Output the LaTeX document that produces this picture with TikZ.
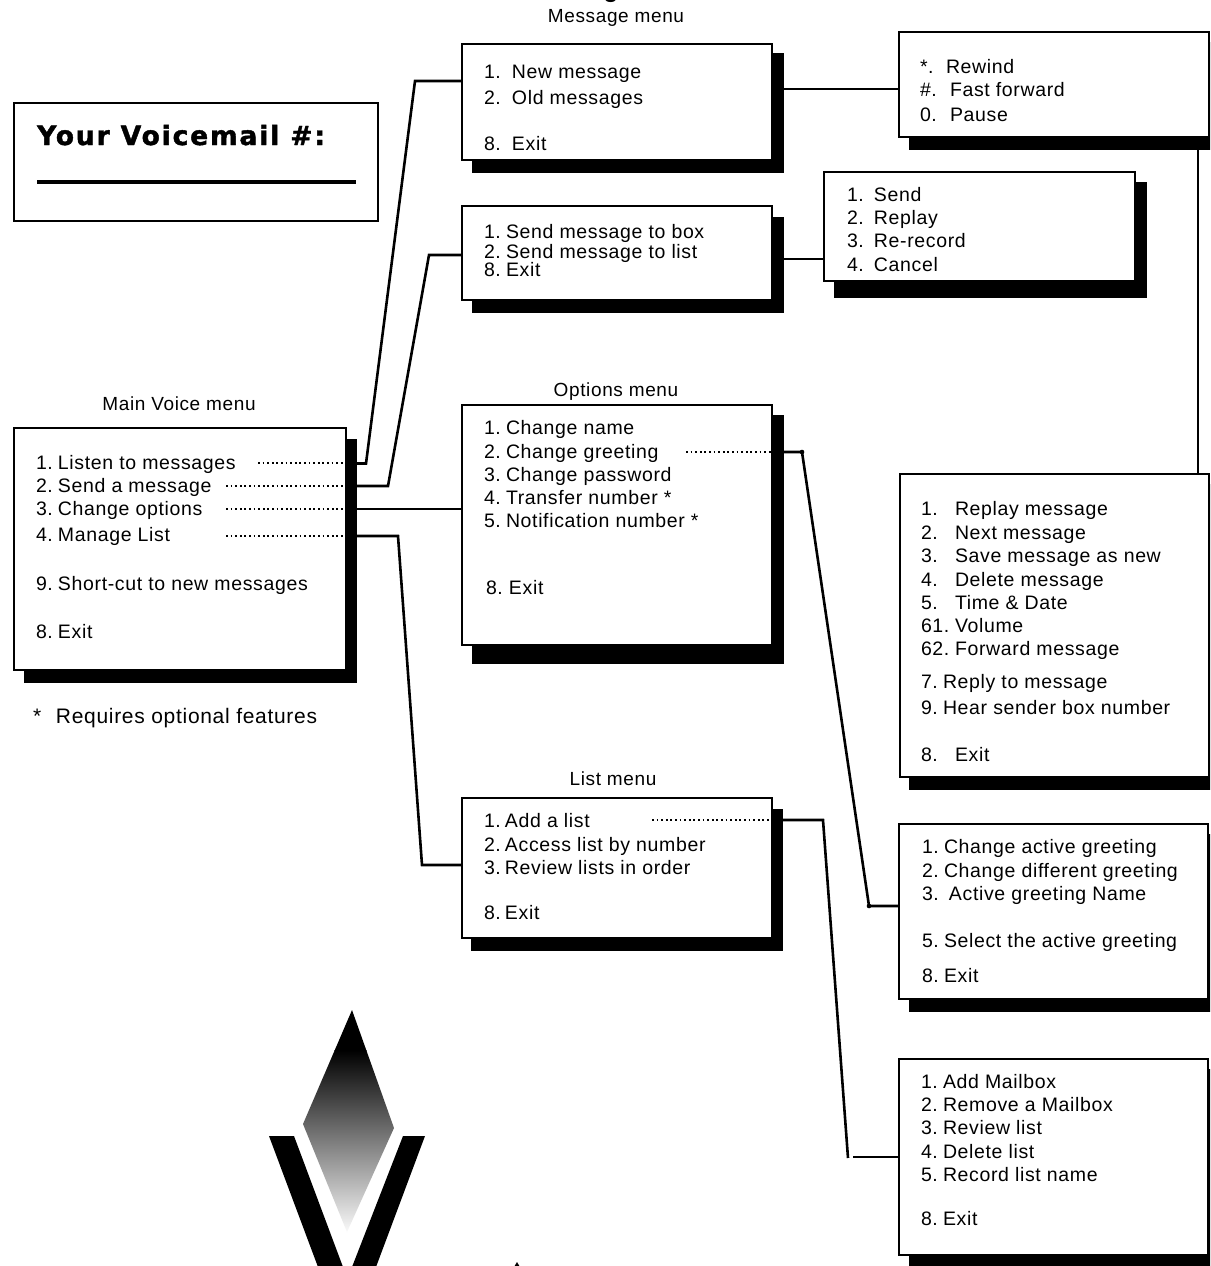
\documentclass[tikz,border=0pt]{standalone}
\usepackage{fontspec}
\setmainfont[LetterSpace=3.3]{Liberation Sans}
\newfontfamily\headfont[FakeBold=1.6,LetterSpace=7]{DejaVu Sans Bold}
\usetikzlibrary{calc}
\newcounter{tn}
\tikzset{
  frame/.style={draw=black,fill=white,line width=2.9pt,inner sep=0pt,outer sep=0pt},
  shadowbox/.style={fill=black,inner sep=0pt,outer sep=0pt},
  conn/.style={draw=black,line width=2.6pt,line join=miter},
  dots/.style={draw=black,line width=1.8pt,dash pattern=on 1.8pt off 2.8pt},
  txt/.style={anchor=base west,inner sep=0pt,outer sep=0pt,font=\fontsize{19.5}{23}\selectfont},
  ttl/.style={anchor=base,inner sep=0pt,outer sep=0pt,font=\fontsize{19}{23}\selectfont},
}
% name, x1,y1,x2,y2
\newcommand{\framedbox}[5]{\node[frame,minimum width={(#4-#2)*1pt},minimum height={(#5-#3)*1pt}] (#1) at ({(#2+#4)/2},{(#3+#5)/2}) {};}
\newcommand{\shadowat}[5]{\node[shadowbox,minimum width={(#4-#2)*1pt},minimum height={(#5-#3)*1pt}] (#1) at ({(#2+#4)/2},{(#3+#5)/2}) {};}
% x, y, number, x2, text
\newcommand{\itm}[5]{\stepcounter{tn}\node[txt] (t\arabic{tn}) at (#1,#2) {\makebox[\dimexpr#4pt-#1pt\relax][l]{#3}#5};}
\begin{document}
\begin{tikzpicture}[x=1pt,y=-1pt]
\path[use as bounding box,clip] (0,0) rectangle (1210,1266);
\fill[white] (0,0) rectangle (1210,1266);

% shadows
\shadowat{mainS}{24}{439}{357}{683}
\shadowat{msgS}{472}{53}{784}{173}
\shadowat{sendS}{472}{217}{784}{313}
\shadowat{optS}{472}{415}{784}{664}
\shadowat{listS}{471}{809}{783}{951}
\shadowat{ctlS}{909}{42}{1212}{150}
\shadowat{sendrS}{834}{182}{1147}{298}
\shadowat{playS}{909}{484}{1212}{790}
\shadowat{greetS}{909}{834}{1212}{1012}
\shadowat{mboxS}{909}{1069}{1212}{1270}

% boxes
\framedbox{vm}{14}{103}{378}{221}
\framedbox{main}{14}{428}{346}{670}
\framedbox{msg}{462}{44}{772}{160}
\framedbox{send}{462}{206}{772}{300}
\framedbox{opt}{462}{405}{772}{645}
\framedbox{list}{462}{798}{772}{938}
\framedbox{ctl}{899}{32}{1209}{137}
\framedbox{sendr}{824}{172}{1135}{281}
\framedbox{play}{900}{474}{1209}{777}
\framedbox{greet}{899}{824}{1208}{999}
\framedbox{mbox}{899}{1059}{1208}{1255}

% voicemail box
\node[anchor=base west,inner sep=0pt,font=\headfont\fontsize{26.5}{30}\selectfont] (vmtxt) at (37,145) {Your Voicemail \#:};
\coordinate (vmA) at (37,182);
\coordinate (vmB) at (356,182);
\draw[line width=4pt] (vmA) -- (vmB);

% clipped heading and tip
\node[anchor=base,inner sep=0pt,font=\bfseries\fontsize{24}{28}\selectfont] (hg) at (611,-2) {g};
\coordinate (tipA) at (517,1262);
\coordinate (tipB) at (514,1267);
\coordinate (tipC) at (520,1267);
\fill (tipA) -- (tipB) -- (tipC) -- cycle;

% titles
\node[ttl] (ttlmsg) at (616,22) {Message menu};
\node[ttl] (ttlmain) at (179,410) {Main Voice menu};
\node[ttl] (ttlopt) at (616,396) {Options menu};
\node[ttl] (ttllist) at (613,785) {List menu};

% main
\itm{36}{469}{1.}{58}{Listen to messages}
\itm{36}{492}{2.}{58}{Send a message}
\itm{36}{515}{3.}{58}{Change options}
\itm{36}{541}{4.}{58}{Manage List}
\itm{36}{590}{9.}{58}{Short-cut to new messages}
\itm{36}{638}{8.}{58}{Exit}
\node[txt,font=\fontsize{21}{25}\selectfont] (tnote) at (33,723) {\makebox[23pt][l]{*}Requires optional features};

% message
\itm{484}{78}{1.}{512}{New message}
\itm{484}{104}{2.}{512}{Old messages}
\itm{484}{150}{8.}{512}{Exit}
% controls
\itm{920}{73}{*.}{946}{Rewind}
\itm{920}{96}{\#.}{950}{Fast forward}
\itm{920}{121}{0.}{950}{Pause}
% send
\itm{484}{238}{1.}{506}{Send message to box}
\itm{484}{258}{2.}{506}{Send message to list}
\itm{484}{276}{8.}{506}{Exit}
% send right
\itm{847}{201}{1.}{874}{Send}
\itm{847}{224}{2.}{874}{Replay}
\itm{847}{247}{3.}{874}{Re-record}
\itm{847}{271}{4.}{874}{Cancel}
% options
\itm{484}{434}{1.}{506}{Change name}
\itm{484}{458}{2.}{506}{Change greeting}
\itm{484}{481}{3.}{506}{Change password}
\itm{484}{504}{4.}{506}{Transfer number *}
\itm{484}{527}{5.}{506}{Notification number *}
\itm{486}{594}{8.}{509}{Exit}
% list
\itm{484}{827}{1.}{505}{Add a list}
\itm{484}{851}{2.}{505}{Access list by number}
\itm{484}{874}{3.}{505}{Review lists in order}
\itm{484}{919}{8.}{505}{Exit}
% play
\itm{921}{515}{1.}{955}{Replay message}
\itm{921}{539}{2.}{955}{Next message}
\itm{921}{562}{3.}{955}{Save message as new}
\itm{921}{586}{4.}{955}{Delete message}
\itm{921}{609}{5.}{955}{Time \& Date}
\itm{921}{632}{61.}{955}{Volume}
\itm{921}{655}{62.}{955}{Forward message}
\itm{921}{688}{7.}{943}{Reply to message}
\itm{921}{714}{9.}{943}{Hear sender box number}
\itm{921}{761}{8.}{955}{Exit}
% greet
\itm{922}{853}{1.}{944}{Change active greeting}
\itm{922}{877}{2.}{944}{Change different greeting}
\itm{922}{900}{3.}{949}{Active greeting Name}
\itm{922}{947}{5.}{944}{Select the active greeting}
\itm{922}{982}{8.}{944}{Exit}
% mbox
\itm{921}{1088}{1.}{943}{Add Mailbox}
\itm{921}{1111}{2.}{943}{Remove a Mailbox}
\itm{921}{1134}{3.}{943}{Review list}
\itm{921}{1158}{4.}{943}{Delete list}
\itm{921}{1181}{5.}{943}{Record list name}
\itm{921}{1225}{8.}{943}{Exit}

% dotted leaders
\draw[dots] (258,463) -- (main.east |- 0,463);
\draw[dots] (226,486) -- (main.east |- 0,486);
\draw[dots] (226,509) -- (main.east |- 0,509);
\draw[dots] (226,536) -- (main.east |- 0,536);
\draw[dots] (686,452) -- (opt.east |- 0,452);
\draw[dots] (652,820) -- (list.east |- 0,820);

% connectors
\draw[conn] (mainS.east |- 0,463.5) -- (366,463.5) -- (415,81) -- (msg.west |- 0,81);
\draw[conn] (mainS.east |- 0,486) -- (388,486) -- (429,255) -- (send.west |- 0,255);
\draw[conn] (mainS.east |- 0,509) -- (opt.west |- 0,509);
\draw[conn] (mainS.east |- 0,536) -- (398,536) -- (422,865) -- (list.west |- 0,865);
\draw[conn] (msgS.east |- 0,89) -- (ctl.west |- 0,89);
\draw[conn] (sendS.east |- 0,259) -- (sendr.west |- 0,259);
\draw[conn] (ctlS.south -| 1198,0) -- (play.north -| 1198,0);
\draw[conn] (optS.east |- 0,452) -- (802,452) -- (869,906) -- (greet.west |- 0,906);
\fill (802,452) circle (2.3);
\fill (869,906) circle (2.3);
\draw[conn] (listS.east |- 0,820) -- (823,820) -- (848,1158);
\coordinate (mbfree) at (853,1157);
\draw[conn] (mbfree) -- (mbox.west |- 0,1157);

% logo
\begin{scope}
\clip (352,1010) -- (394,1128) -- (347,1232) -- (303,1124) -- cycle;
\fill[black] (290,1005) rectangle (410,1051);
\shade[top color=black,bottom color=white] (290,1050) rectangle (410,1236);
\end{scope}
\fill[black] (269,1136) -- (294,1136) -- (343,1267) -- (318,1267) -- cycle;
\fill[black] (403,1136) -- (425,1136) -- (376,1267) -- (352,1267) -- cycle;
\end{tikzpicture}
\end{document}
